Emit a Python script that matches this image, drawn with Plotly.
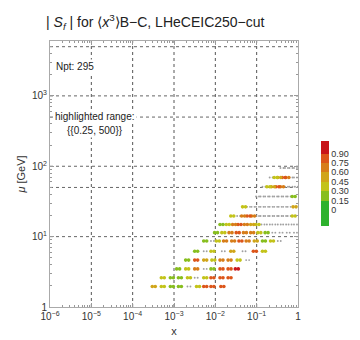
import numpy as np
import plotly.graph_objects as go

# ---------------- data ----------------
row_mu = [1.96, 2.61, 3.48, 4.64, 6.19, 8.66, 11.4, 14.9, 19.6, 26.5, 37.1, 51.1, 69.2, 94.5]

row_x = [
    [3.24e-4, 5.36e-4, 8.87e-4, 1.39e-3, 2.30e-3, 3.81e-3, 5.69e-3, 8.51e-3, 0.0148],
    [5.36e-4, 8.87e-4, 1.39e-3, 2.30e-3, 3.44e-3, 5.69e-3, 8.51e-3, 0.0141, 0.0221],
    [1.26e-3, 2.08e-3, 3.44e-3, 5.69e-3, 8.51e-3, 0.0141, 0.0221, 0.0331],
    [2.08e-3, 3.44e-3, 5.69e-3, 8.95e-3, 0.0141, 0.0221, 0.0366, 0.0605],
    [3.44e-3, 5.69e-3, 8.51e-3, 0.0156, 0.0257, 0.0495, 0.0904, 0.150],
    [5.69e-3, 8.51e-3, 0.0115, 0.0172, 0.0270, 0.0405, 0.0605, 0.0951, 0.150, 0.235, 0.352],
    [0.0104, 0.0156, 0.0233, 0.0348, 0.0520, 0.0778, 0.116, 0.174, 0.260, 0.389, 0.581, 0.869],
    [0.0141, 0.0200, 0.0284, 0.0385, 0.0547, 0.0778, 0.105, 0.142, 0.192, 0.260, 0.352, 0.475, 0.643, 0.869],
    [0.0257, 0.0366, 0.0470, 0.0636, 0.0818, 0.105, 0.135, 0.174, 0.224, 0.288, 0.370, 0.475, 0.611, 0.786],
    [0.0495, 0.0636, 0.0818, 0.105, 0.135, 0.174, 0.224, 0.288, 0.370, 0.475, 0.611, 0.826],
    [0.105, 0.135, 0.174, 0.224, 0.288, 0.370, 0.475, 0.611, 0.786],
    [0.150, 0.192, 0.247, 0.318, 0.409, 0.526, 0.676, 0.914],
    [0.224, 0.288, 0.352, 0.452, 0.552, 0.676, 0.869],
    [0.409, 0.526, 0.676, 0.869],
]

row_s = [
    [0.50, 0.40, 0.30, 0.30, 0.10, 0.40, 0.85, 0.85, 0.80],
    [0.40, 0.30, 0.27, 0.40, 0.10, 0.40, 0.85, 0.85, 0.80],
    [0.30, 0.40, 0.65, 0.10, 0.30, 0.85, 0.85, 0.95],
    [0.30, 0.80, 0.50, 0.40, 0.65, 0.70, 0.40, 0.10],
    [0.30, 0.10, 0.40, 0.10, 0.50, 0.10, 0.75, 0.40],
    [0.27, 0.10, 0.40, 0.60, 0.70, 0.85, 0.65, 0.45, 0.30, 0.35, 0.10],
    [0.30, 0.40, 0.65, 0.85, 0.70, 0.60, 0.40, 0.30, 0.10, 0.10, 0.10, 0.10],
    [0.30, 0.40, 0.65, 0.85, 0.70, 0.55, 0.35, 0.10, 0.10, 0.10, 0.10, 0.10, 0.10, 0.10],
    [0.35, 0.10, 0.70, 0.85, 0.65, 0.10, 0.10, 0.10, 0.10, 0.10, 0.10, 0.10, 0.10, 0.40],
    [0.40, 0.10, 0.10, 0.10, 0.10, 0.10, 0.10, 0.10, 0.10, 0.10, 0.10, 0.50],
    [0.10, 0.10, 0.10, 0.10, 0.10, 0.10, 0.10, 0.10, 0.30],
    [0.10, 0.40, 0.50, 0.85, 0.70, 0.10, 0.10, 0.10],
    [0.10, 0.40, 0.45, 0.85, 0.70, 0.10, 0.10],
    [0.10, 0.10, 0.10, 0.10],
]

hl_range = (0.25, 500)
npt = 295

x_tick_vals = [1e-6, 1e-5, 1e-4, 1e-3, 1e-2, 1e-1, 1]
x_tick_text = ["10<sup>−6</sup>", "10<sup>−5</sup>", "10<sup>−4</sup>", "10<sup>−3</sup>",
               "10<sup>−2</sup>", "10<sup>−1</sup>", "1"]
y_tick_vals = [1, 10, 100, 1000]
y_tick_text = ["1", "10<sup>1</sup>", "10<sup>2</sup>", "10<sup>3</sup>"]
grid_x_vals = [1e-5, 1e-4, 1e-3, 1e-2, 1e-1]
grid_y_vals = [10, 50, 100, 500, 1000, 5000]
cbar_vals = [0, 0.15, 0.30, 0.45, 0.60, 0.75, 0.90]
cbar_text = ["0", "0.15", "0.30", "0.45", "0.60", "0.75", "0.90"]

# ---------------- build ----------------
X_RANGE = [-6, 0]
Y_RANGE = [0, 3.78]
x_lo, x_hi = 10 ** X_RANGE[0], 10 ** X_RANGE[1]
y_lo, y_hi = 10 ** Y_RANGE[0], 10 ** Y_RANGE[1]

xs = np.array([v for r in row_x for v in r])
ss = np.array([v for r in row_s for v in r])
ms = np.array([m for m, r in zip(row_mu, row_x) for _ in r])

hl = (ss >= hl_range[0]) & (ss <= hl_range[1])
pair = 10 ** 0.036  # each marker drawn as a small twin dot

FONT = "Liberation Sans, Arial, Helvetica, sans-serif"
fig = go.Figure()

# grid lines
gx, gy = [], []
for v in grid_x_vals:
    gx += [v, v, None]
    gy += [y_lo, y_hi, None]
fig.add_trace(go.Scatter(x=gx, y=gy, mode="lines", hoverinfo="skip", showlegend=False,
                         line=dict(color="#555555", width=1, dash="dot")))
hx, hy = [], []
for v in grid_y_vals:
    hx += [x_lo, x_hi, None]
    hy += [v, v, None]
fig.add_trace(go.Scatter(x=hx, y=hy, mode="lines", hoverinfo="skip", showlegend=False,
                         line=dict(color="#666666", width=1, dash="3px,3px")))

# grey (non highlighted) points
gxs = np.concatenate([xs[~hl] / pair, xs[~hl] * pair])
gms = np.concatenate([ms[~hl], ms[~hl]])
fig.add_trace(go.Scatter(x=gxs, y=gms, mode="markers", showlegend=False,
                         marker=dict(size=1.9, color="#a0a0a0", line=dict(width=0))))

# colour scale (discrete bands)
cmin, cmax = -0.25, 1.1
bands = [cmin, 0.15, 0.30, 0.45, 0.60, 0.75, 0.90, cmax]
band_cols = ["rgb(45,178,45)", "rgb(135,190,30)", "rgb(195,195,25)", "rgb(208,165,25)",
             "rgb(215,125,25)", "rgb(220,85,25)", "rgb(200,20,25)"]
cs = []
for i, c in enumerate(band_cols):
    a = (bands[i] - cmin) / (cmax - cmin)
    b = (bands[i + 1] - cmin) / (cmax - cmin)
    cs += [[a, c], [b, c]]

cxs = np.concatenate([xs[hl] / pair, xs[hl] * pair])
cms = np.concatenate([ms[hl], ms[hl]])
css = np.concatenate([ss[hl], ss[hl]])
fig.add_trace(go.Scatter(
    x=cxs, y=cms, mode="markers", showlegend=False,
    marker=dict(size=3.6, color=css, colorscale=cs, cmin=cmin, cmax=cmax, line=dict(width=0),
                showscale=True,
                colorbar=dict(thickness=8, len=105, lenmode="pixels", x=1.051, xanchor="left",
                              y=0.465, yanchor="middle", outlinewidth=0, ticks="",
                              tickvals=cbar_vals, ticktext=cbar_text,
                              tickfont=dict(size=9, color="#333333", family=FONT))),
))

minor_vals = lambda lo, hi: [k * 10.0 ** n for n in range(lo, hi) for k in range(2, 10)]

fig.update_layout(
    width=360, height=340,
    margin=dict(l=38, r=47, t=33, b=35),
    paper_bgcolor="white", plot_bgcolor="white",
    font=dict(family=FONT, color="#222222"),
    title=dict(text="| <i>S</i><sub><i>f</i></sub> | for ⟨<i>x</i><sup>3</sup>⟩B−C, LHeCEIC250−cut",
               x=38 / 360, xanchor="left", xref="container", y=1 - 14 / 340, yanchor="middle",
               font=dict(size=14, color="#222222", family=FONT)),
    xaxis=dict(type="log", range=X_RANGE, tickmode="array", tickvals=x_tick_vals, ticktext=x_tick_text,
               ticks="inside", ticklen=4, tickcolor="#999999", showline=True, linecolor="#aaaaaa",
               mirror="allticks", showgrid=False, zeroline=False,
               minor=dict(tickmode="array", tickvals=minor_vals(-6, 0), ticks="inside", ticklen=2,
                          tickcolor="#999999", showgrid=False),
               tickfont=dict(size=10, color="#333333"),
               title=dict(text="x", font=dict(size=11, color="#333333"), standoff=6)),
    yaxis=dict(type="log", range=Y_RANGE, tickmode="array", tickvals=y_tick_vals, ticktext=y_tick_text,
               ticks="inside", ticklen=4, tickcolor="#999999", showline=True, linecolor="#aaaaaa",
               mirror="allticks", showgrid=False, zeroline=False,
               minor=dict(tickmode="array", tickvals=minor_vals(0, 4), ticks="inside", ticklen=2,
                          tickcolor="#999999", showgrid=False),
               tickfont=dict(size=10, color="#333333"),
               title=dict(text="<i>μ</i> [GeV]", font=dict(size=11, color="#333333"), standoff=4)),
    annotations=[
        dict(text=f"Npt: {npt}", xref="paper", yref="paper", x=0.0145, y=0.904, xanchor="left",
             yanchor="middle", showarrow=False, bgcolor="white", font=dict(size=10, color="#222222")),
        dict(text="highlighted range:", xref="paper", yref="paper", x=0.182, y=0.717, xanchor="center",
             yanchor="middle", showarrow=False, bgcolor="white", font=dict(size=10, color="#222222")),
        dict(text="{{%g, %g}}" % hl_range, xref="paper", yref="paper", x=0.182, y=0.665, xanchor="center",
             yanchor="middle", showarrow=False, bgcolor="white", font=dict(size=10, color="#222222")),
    ],
)

fig.write_html("out.html")
